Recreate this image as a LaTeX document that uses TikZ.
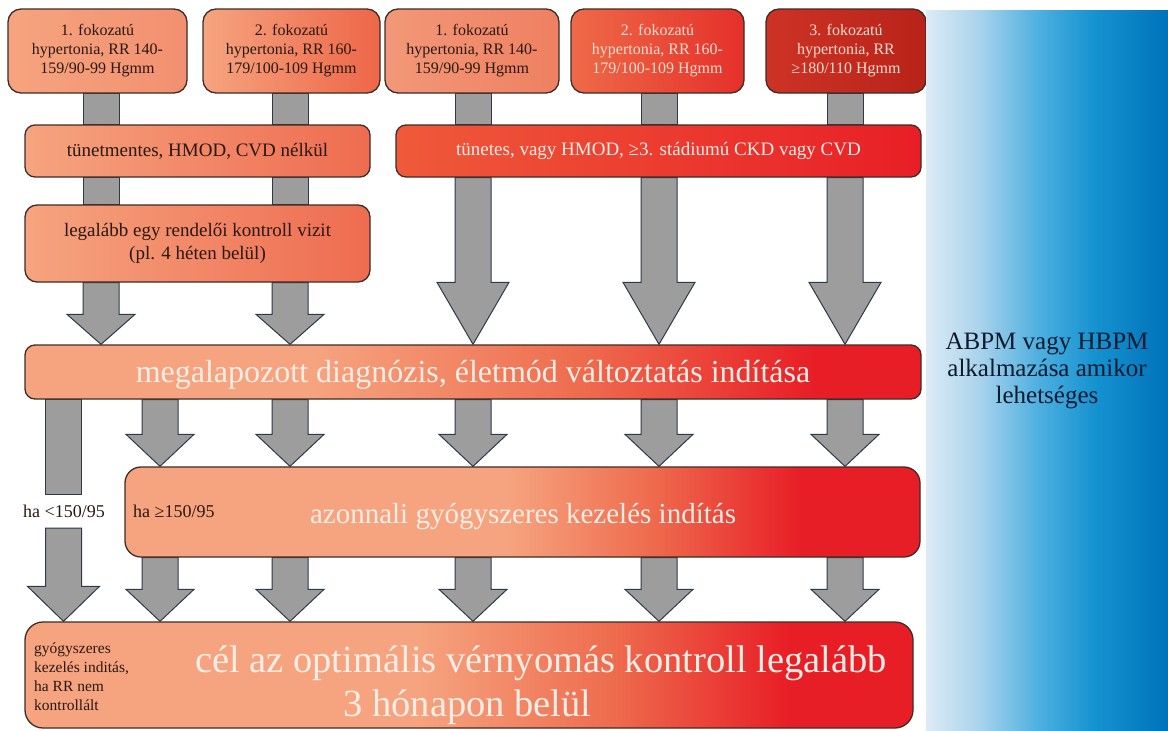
\documentclass[tikz,border=0pt]{standalone}
\usepackage{fontspec}
\setmainfont{Liberation Serif}
\usetikzlibrary{calc,backgrounds}
\definecolor{salmon}{HTML}{F6A47F}
\definecolor{hred}{HTML}{E81E26}
\definecolor{midor}{HTML}{EE6C4E}
\definecolor{bdr}{HTML}{3E2C28}
\definecolor{gfill}{HTML}{9D9D9D}
\definecolor{gline}{HTML}{2E3A48}
\definecolor{txtd}{HTML}{2A1812}
\definecolor{txtl}{HTML}{FCEDE6}
\definecolor{txtp}{HTML}{F8DDD0}
\definecolor{navy}{HTML}{0E1A2E}
\definecolor{cA}{HTML}{F29070}
\definecolor{cB}{HTML}{ED6648}
\definecolor{cCa}{HTML}{F29878}
\definecolor{cCb}{HTML}{EF8061}
\definecolor{cDa}{HTML}{EE6A48}
\definecolor{cDb}{HTML}{E5302A}
\definecolor{cEa}{HTML}{CD3325}
\definecolor{cEb}{HTML}{B82319}
\definecolor{cSa}{HTML}{EE6C50}
\definecolor{cSb}{HTML}{EF5A3A}
\definecolor{blA}{HTML}{DDEBF6}
\definecolor{blB}{HTML}{A9D3EC}
\definecolor{blC}{HTML}{4FB0E0}
\definecolor{blD}{HTML}{1592D0}
\definecolor{blE}{HTML}{0072BA}
\pgfdeclarehorizontalshading{shm}{100bp}{color(0bp)=(salmon); color(41bp)=(salmon); color(56bp)=(midor); color(69bp)=(hred); color(100bp)=(hred)}
\pgfdeclarehorizontalshading{sha}{100bp}{color(0bp)=(salmon); color(49bp)=(salmon); color(58bp)=(midor); color(67.5bp)=(hred); color(100bp)=(hred)}
\pgfdeclarehorizontalshading{shb}{100bp}{color(0bp)=(salmon); color(47bp)=(salmon); color(58bp)=(midor); color(68bp)=(hred); color(100bp)=(hred)}
\pgfdeclarehorizontalshading{shblue}{100bp}{color(0bp)=(blA); color(25bp)=(blA); color(36bp)=(blB); color(48bp)=(blC); color(60bp)=(blD); color(75bp)=(blE); color(100bp)=(blE)}
\newcommand\fs[2]{\fontsize{#1}{#2}\selectfont}
\newcommand\grect[3]{\path[garr] let \p1=(#1), \p2=(#2), \p3=(#3) in (\x1-18pt,\y2) rectangle (\x1+18pt,\y3);}
\newcommand\garrow[5]{\path[garr] let \p1=(#1), \p2=(#2), \p3=(#3) in (\x1-18pt,\y2) -- (\x1+18pt,\y2) -- (\x1+18pt,\y3+#4) -- (\x1+#5,\y3+#4) -- (\x1,\y3) -- (\x1-#5,\y3+#4) -- (\x1-18pt,\y3+#4) -- cycle;}
\begin{document}
\begin{tikzpicture}[x=1pt,y=-1pt,
  box/.style={draw=bdr, line width=1.3pt, inner sep=0pt, align=center},
  topbox/.style={box, rounded corners=13pt, minimum height=84, font=\fs{16}{19}, text=txtd},
  rowbox/.style={box, rounded corners=10pt, minimum height=52, font=\fs{19}{22}, text=txtd},
  garr/.style={fill=gfill, draw=gline, line width=1pt, line join=miter},
  bigtxt/.style={anchor=base, text=txtl, inner sep=0pt}]
\useasboundingbox (0,0) rectangle (1168,731);
% top row
\node[topbox, minimum width=179, left color=salmon, right color=cA] (tA) at (97.5,51) {1. fokozatú\\hypertonia, RR 140-\\159/90-99 Hgmm};
\node[topbox, minimum width=177, left color=salmon, right color=cB] (tB) at (291.5,51) {2. fokozatú\\hypertonia, RR 160-\\179/100-109 Hgmm};
\node[topbox, minimum width=174, left color=cCa, right color=cCb] (tC) at (472,51) {1. fokozatú\\hypertonia, RR 140-\\159/90-99 Hgmm};
\node[topbox, minimum width=173, left color=cDa, right color=cDb, text=txtp] (tD) at (657.5,51) {2. fokozatú\\hypertonia, RR 160-\\179/100-109 Hgmm};
\node[topbox, minimum width=160, left color=cEa, right color=cEb, text=txtp] (tE) at (846,51) {3. fokozatú\\hypertonia, RR\\≥180/110 Hgmm};
% second row
\node[rowbox, minimum width=345, left color=salmon, right color=cSa] (s1) at (197.5,151) {tünetmentes, HMOD, CVD nélkül};
\node[rowbox, minimum width=525, left color=cSb, right color=hred, text=txtl] (s2) at (658.5,151) {tünetes, vagy HMOD, ≥3. stádiumú CKD vagy CVD};
% third box
\node[rowbox, rounded corners=12pt, minimum width=345, minimum height=77, left color=salmon, right color=cSa, font=\fs{19}{23}] (v) at (197.5,243.5) {legalább egy rendelői kontroll vizit\\(pl. 4 héten belül)};
% megalapozott
\node[box, rounded corners=10pt, minimum width=896, minimum height=54, shade, shading=shm] (m) at (473,372) {};
\node[bigtxt, font=\fs{32}{36}] (mt) at (473,382) {megalapozott diagnózis, életmód változtatás indítása};
% azonnali
\node[box, rounded corners=16pt, minimum width=795, minimum height=90, shade, shading=sha] (az) at (522.5,512) {};
\node[bigtxt, font=\fs{29}{32}] (azt) at (523,523) {azonnali gyógyszeres kezelés indítás};
\node[anchor=base west, inner sep=0pt, text=txtd, font=\fs{18}{20}] (hage) at (133,517) {ha ≥150/95};
\node[inner sep=0pt, minimum height=33, text=txtd, font=\fs{18}{20}] (halt) at (64,511.5) {ha <150/95};
% bottom
\node[box, rounded corners=18pt, minimum width=888, minimum height=106, shade, shading=shb] (bt) at (469,675) {};
\node[bigtxt, font=\fs{38.5}{43}] (bt1) at (541,672) {cél az optimális vérnyomás kontroll legalább};
\node[bigtxt, font=\fs{38.5}{43}] (bt2) at (467.5,716) {3 hónapon belül};
\node[anchor=north west, align=left, inner sep=0pt, text=txtd, font=\fs{15.5}{19}] (bt0) at (34,643) {gyógyszeres\\kezelés inditás,\\ha RR nem\\kontrollált};
% blue panel
\node[minimum width=242, minimum height=721, inner sep=0pt, shade, shading=shblue] (bp) at (1047,370.5) {};
\node[align=center, text=navy, font=\fs{25}{27}] (abpm) at (1047,371) {ABPM vagy HBPM\\alkalmazása amikor\\lehetséges};
% columns
\coordinate (k0) at (63.5,0);
\coordinate (kl) at (160,0);
\coordinate (k1) at (101,0);
\coordinate (k2) at (290,0);
\coordinate (k3) at (473,0);
\coordinate (k4) at (659,0);
\coordinate (k5) at (845,0);
\begin{scope}[on background layer]
\fill[white] (0,0) rectangle (1168,731);
\grect{k1}{tA.south}{s1.north}
\grect{k2}{tB.south}{s1.north}
\grect{k3}{tC.south}{s2.north}
\grect{k4}{tD.south}{s2.north}
\grect{k5}{tE.south}{s2.north}
\grect{k1}{s1.south}{v.north}
\grect{k2}{s1.south}{v.north}
\garrow{k1}{v.south}{m.north}{30pt}{34pt}
\garrow{k2}{v.south}{m.north}{30pt}{34pt}
\garrow{k3}{s2.south}{m.north}{62pt}{36pt}
\garrow{k4}{s2.south}{m.north}{62pt}{36pt}
\garrow{k5}{s2.south}{m.north}{62pt}{36pt}
\grect{k0}{m.south}{halt.north}
\garrow{k0}{halt.south}{bt.north}{35pt}{36pt}
\foreach \k in {kl,k2,k3,k4,k5}{
  \garrow{\k}{m.south}{az.north}{32pt}{34pt}
  \garrow{\k}{az.south}{bt.north}{32pt}{34pt}
}
\end{scope}
\end{tikzpicture}
\end{document}
